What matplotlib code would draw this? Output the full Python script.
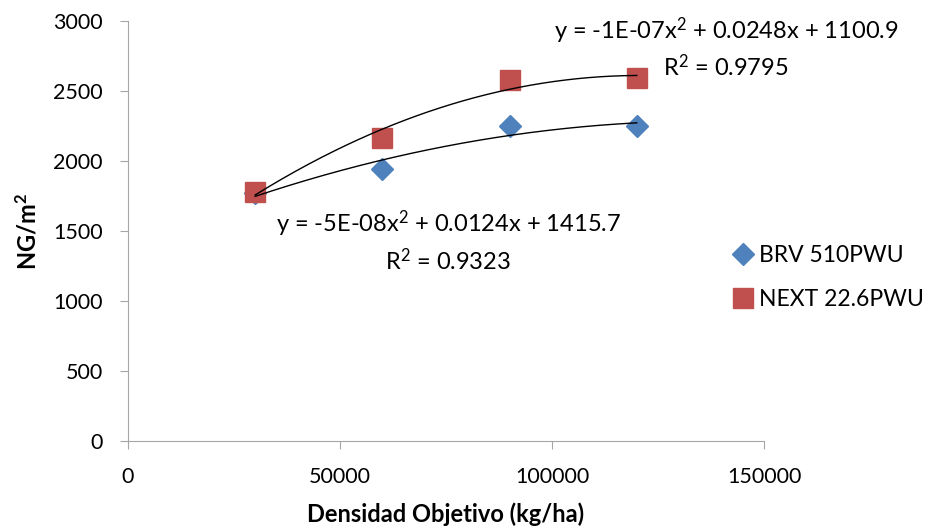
import matplotlib.pyplot as plt
import numpy as np

plt.rcParams['font.family'] = ['Lato', 'DejaVu Sans']
plt.rcParams['mathtext.fontset'] = 'custom'
plt.rcParams['mathtext.rm'] = 'Lato'
plt.rcParams['mathtext.it'] = 'Lato:italic'
plt.rcParams['mathtext.bf'] = 'Lato:bold'

# data
densidad = [30000, 60000, 90000, 120000]
brv = [1770, 1940, 2250, 2250]
next_ = [1778, 2165, 2575, 2590]

fig = plt.figure(figsize=(9.3, 5.3), dpi=100)
ax = fig.add_axes([0.1376, 0.1679, 0.6839, 0.7925])

ax.plot(densidad, brv, 'D', color='#4F81BD', markersize=11, label='BRV 510PWU', zorder=3)
ax.plot(densidad, next_, 's', color='#C0504D', markersize=14.5, label='NEXT 22.6PWU', zorder=3)

# polynomial (order 2) trendlines
xx = np.linspace(min(densidad), max(densidad), 200)
for ys in (brv, next_):
    c = np.polyfit(densidad, ys, 2)
    ax.plot(xx, np.polyval(c, xx), color='black', lw=1, zorder=4)

ax.set_xlim(0, 150000)
ax.set_ylim(0, 3000)
ax.set_xticks([0, 50000, 100000, 150000])
ax.set_yticks(range(0, 3001, 500))

for s in ['top', 'right']:
    ax.spines[s].set_visible(False)
for s in ['left', 'bottom']:
    ax.spines[s].set_color('#a6a6a6')
ax.tick_params(colors='#a6a6a6', length=6, labelcolor='black', labelsize=15.5)
ax.tick_params(axis='x', pad=13)
ax.tick_params(axis='y', pad=12)

ax.set_xlabel('Densidad Objetivo (kg/ha)', fontsize=17, fontweight='bold', labelpad=11)
ax.set_ylabel(r'NG/m$^\mathbf{2}$', fontsize=17, fontweight='bold', labelpad=10)

ax.text(75500, 1428, 'y = -5E-08x$^2$ + 0.0124x + 1415.7\nR$^2$ = 0.9323',
        ha='center', va='center', fontsize=17, linespacing=1.35)
ax.text(141000, 2811, 'y = -1E-07x$^2$ + 0.0248x + 1100.9\nR$^2$ = 0.9795',
        ha='center', va='center', fontsize=17, linespacing=1.35)

fig.legend(*ax.get_legend_handles_labels(), loc='center left',
           bbox_to_anchor=(0.792, 0.477), frameon=False, fontsize=16.5,
           handlelength=0.6, handletextpad=0.4, labelspacing=1.0,
           borderpad=0, borderaxespad=0)

fig.savefig('out.png', dpi=100)
